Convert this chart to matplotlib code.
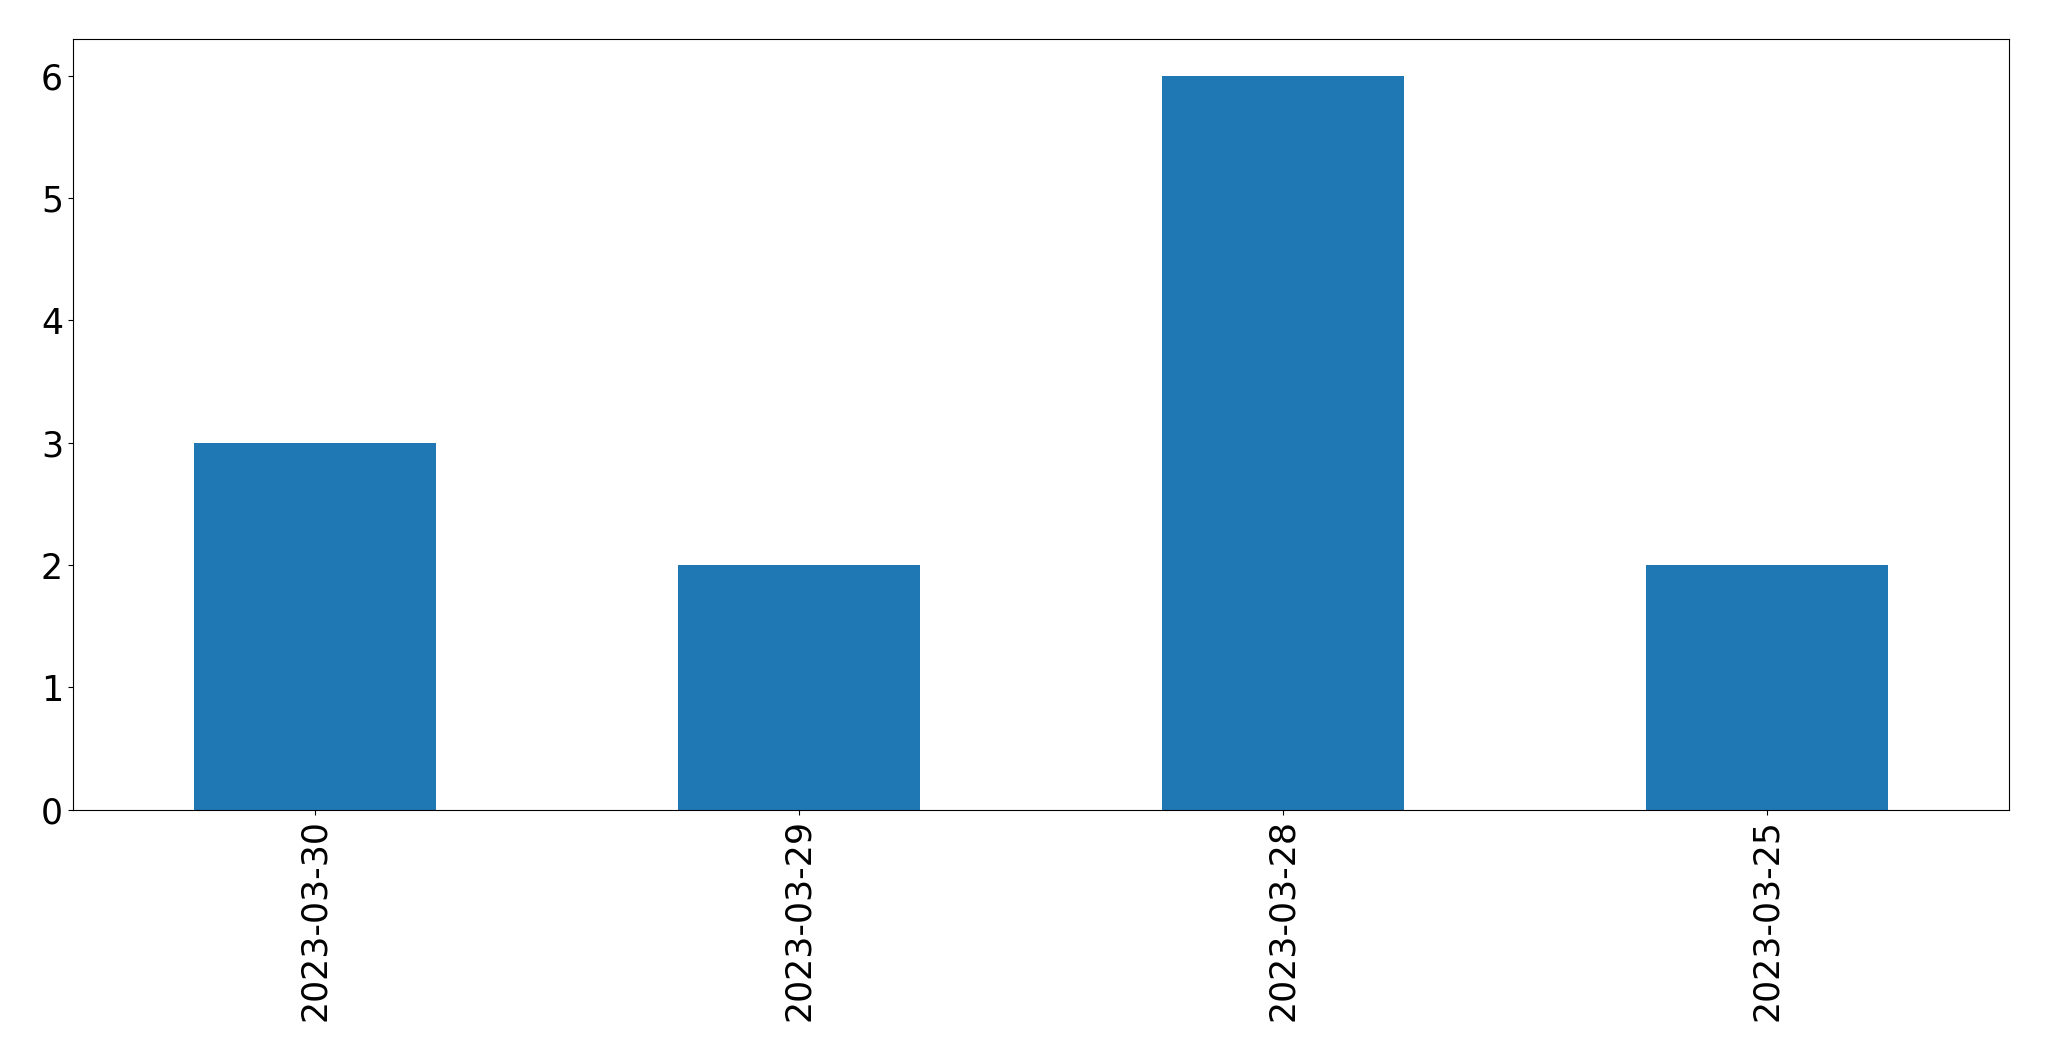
import pandas as pd
import matplotlib
matplotlib.use("Agg")
import matplotlib.pyplot as plt

# counts per date, in the order shown
dates = ["2023-03-30", "2023-03-29", "2023-03-28", "2023-03-25"]
counts = [3, 2, 6, 2]

s = pd.Series(counts, index=dates)

fig, ax = plt.subplots(figsize=(20.49, 10.61), dpi=100)
s.plot(kind="bar", ax=ax, color="#1f77b4", fontsize=25)
ax.tick_params(axis="both", labelsize=25)

fig.subplots_adjust(left=0.0355, right=0.9805, top=0.963, bottom=0.237)
fig.savefig("out.png", dpi=100)
